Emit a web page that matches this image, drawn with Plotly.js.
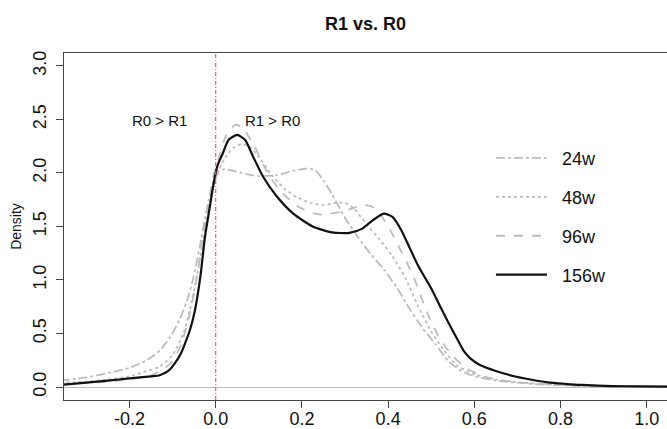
<!DOCTYPE html>
<html>
<head>
<meta charset="utf-8">
<script src="https://cdn.plot.ly/plotly-3.0.1.min.js"></script>
<style>html,body{margin:0;padding:0;overflow:hidden;background:#fff;}</style>
</head>
<body>
<div id="chart" style="width:667px;height:429px;"></div>
<script>
// ---- data ----
const seriesNames = ["24w", "48w", "96w", "156w"];

const x24 = [-0.36,-0.30,-0.25,-0.20,-0.16,-0.13,-0.105,-0.085,-0.067,-0.05,-0.035,-0.02,-0.005,0.01,0.03,0.06,0.10,0.14,0.18,0.21,0.23,0.25,0.27,0.30,0.33,0.36,0.39,0.42,0.45,0.48,0.51,0.54,0.57,0.60,0.65,0.70,0.75,0.80,0.85,0.90,0.95,1.0,1.05];
const y24 = [0.06,0.09,0.13,0.18,0.25,0.34,0.47,0.62,0.80,1.05,1.35,1.68,1.92,2.03,2.03,2.00,1.97,1.98,2.02,2.04,2.03,1.93,1.80,1.58,1.40,1.24,1.10,0.93,0.73,0.55,0.40,0.24,0.15,0.10,0.06,0.04,0.025,0.017,0.011,0.007,0.005,0.003,0.002];

const x48 = [-0.36,-0.30,-0.25,-0.20,-0.168,-0.13,-0.10,-0.075,-0.06,-0.045,-0.03,-0.015,0.0,0.02,0.04,0.06,0.08,0.10,0.13,0.16,0.19,0.22,0.25,0.28,0.30,0.32,0.35,0.38,0.41,0.44,0.47,0.50,0.53,0.56,0.60,0.65,0.70,0.75,0.80,0.90,1.0,1.05];
const y48 = [0.04,0.05,0.07,0.10,0.14,0.19,0.30,0.50,0.72,1.00,1.35,1.70,1.95,2.13,2.23,2.27,2.24,2.15,1.98,1.85,1.77,1.72,1.70,1.72,1.72,1.67,1.52,1.38,1.22,1.02,0.75,0.52,0.34,0.20,0.12,0.07,0.045,0.03,0.02,0.01,0.004,0.002];

const x96 = [-0.36,-0.30,-0.25,-0.20,-0.15,-0.12,-0.10,-0.08,-0.065,-0.05,-0.035,-0.02,-0.005,0.01,0.025,0.045,0.06,0.075,0.09,0.105,0.125,0.155,0.19,0.22,0.25,0.28,0.31,0.34,0.36,0.38,0.40,0.43,0.46,0.49,0.52,0.55,0.58,0.62,0.66,0.70,0.75,0.80,0.90,1.0,1.05];
const y96 = [0.03,0.04,0.05,0.07,0.11,0.17,0.24,0.40,0.60,0.88,1.25,1.63,1.98,2.18,2.36,2.45,2.43,2.35,2.25,2.12,1.97,1.81,1.69,1.63,1.61,1.63,1.66,1.70,1.69,1.62,1.50,1.27,1.02,0.70,0.45,0.29,0.18,0.10,0.065,0.045,0.03,0.02,0.01,0.004,0.002];

const x156 = [-0.36,-0.30,-0.25,-0.20,-0.15,-0.13,-0.11,-0.095,-0.08,-0.07,-0.06,-0.048,-0.035,-0.025,-0.015,-0.005,0.005,0.015,0.03,0.05,0.068,0.087,0.11,0.14,0.18,0.225,0.27,0.31,0.34,0.365,0.39,0.41,0.43,0.45,0.47,0.50,0.52,0.54,0.56,0.575,0.59,0.613,0.65,0.69,0.73,0.77,0.81,0.85,0.92,0.98,1.05];
const y156 = [0.02,0.04,0.06,0.08,0.10,0.11,0.15,0.22,0.32,0.42,0.53,0.72,1.05,1.40,1.65,1.90,2.08,2.17,2.31,2.355,2.31,2.15,1.965,1.79,1.62,1.50,1.445,1.44,1.48,1.56,1.62,1.59,1.47,1.30,1.13,0.92,0.76,0.60,0.45,0.34,0.27,0.206,0.15,0.103,0.07,0.044,0.03,0.019,0.009,0.006,0.004];

const xTickVals = [-0.2, 0.0, 0.2, 0.4, 0.6, 0.8, 1.0];
const xTickText = ["-0.2", "0.0", "0.2", "0.4", "0.6", "0.8", "1.0"];
const yTickVals = [0.0, 0.5, 1.0, 1.5, 2.0, 2.5, 3.0];
const yTickText = ["0.0", "0.5", "1.0", "1.5", "2.0", "2.5", "3.0"];

const regionLabels = ["R0 > R1", "R1 > R0"];
const regionLabelX = [-0.131, 0.132];
const regionLabelY = 2.49;

// ---- chart ----
const FONT = "Liberation Sans, Arial, Helvetica, sans-serif";
const gray = "#bdbdbd";
const xs = [x24, x48, x96, x156];
const ys = [y24, y48, y96, y156];
const styles = [
  {color: gray, width: 1.8, dash: "dashdot"},
  {color: gray, width: 1.8, dash: "dot"},
  {color: gray, width: 1.8, dash: "dash"},
  {color: "#111111", width: 2.2, dash: "solid"}
];

const traces = seriesNames.map((n, i) => ({
  x: xs[i], y: ys[i], type: "scatter", mode: "lines",
  name: "\u00a0\u00a0" + n,
  legendgroup: n,
  line: Object.assign({shape: "spline", smoothing: 0.6}, styles[i]),
  hoverinfo: "skip"
}));

const layout = {
  width: 667, height: 429,
  margin: {l: 64, r: 0, t: 53, b: 29, pad: 0},
  paper_bgcolor: "#ffffff", plot_bgcolor: "#ffffff",
  font: {family: FONT, color: "#111111"},
  title: {text: "<b>R1 vs. R0</b>", font: {family: FONT, size: 18, color: "#111111"},
          xref: "paper", x: 0.5, xanchor: "center", yref: "container", y: 1 - 24/429, yanchor: "middle"},
  xaxis: {
    range: [-0.352, 1.047], showgrid: false, zeroline: false,
    showline: true, linecolor: "#444444", linewidth: 1, mirror: true,
    ticks: "outside", ticklen: 7, tickcolor: "#444444",
    tickvals: xTickVals, ticktext: xTickText, ticklabelstandoff: -5,
    tickfont: {family: FONT, size: 18, color: "#111111"}
  },
  yaxis: {
    range: [-0.1215, 3.121], showgrid: false,
    zeroline: true, zerolinecolor: "#bdbdbd", zerolinewidth: 1,
    showline: true, linecolor: "#444444", linewidth: 1,
    ticks: "outside", ticklen: 7, tickcolor: "#444444",
    tickvals: yTickVals, ticktext: yTickText, tickangle: -90, ticklabelstandoff: 3,
    tickfont: {family: FONT, size: 18, color: "#111111"},
    title: {text: "Density", font: {family: FONT, size: 14, color: "#111111"}, standoff: 4}
  },
  showlegend: true,
  legend: {
    x: 0.708, xanchor: "left", y: 0.75, yanchor: "top",
    font: {family: FONT, size: 18, color: "#111111"},
    bgcolor: "rgba(0,0,0,0)", borderwidth: 0,
    tracegroupgap: 12.5, itemwidth: 51
  },
  shapes: [{
    type: "line", xref: "x", yref: "paper", x0: 0, x1: 0, y0: 0, y1: 1,
    line: {color: "rgb(245,70,95)", width: 1.1, dash: "4px,2px,1px,2px"}
  }],
  annotations: regionLabels.map((t, i) => ({
    text: t, x: regionLabelX[i], y: regionLabelY, xref: "x", yref: "y",
    showarrow: false, font: {family: FONT, size: 15, color: "#111111"}
  }))
};

Plotly.newPlot("chart", traces, layout, {staticPlot: true, displayModeBar: false});
</script>
</body>
</html>
